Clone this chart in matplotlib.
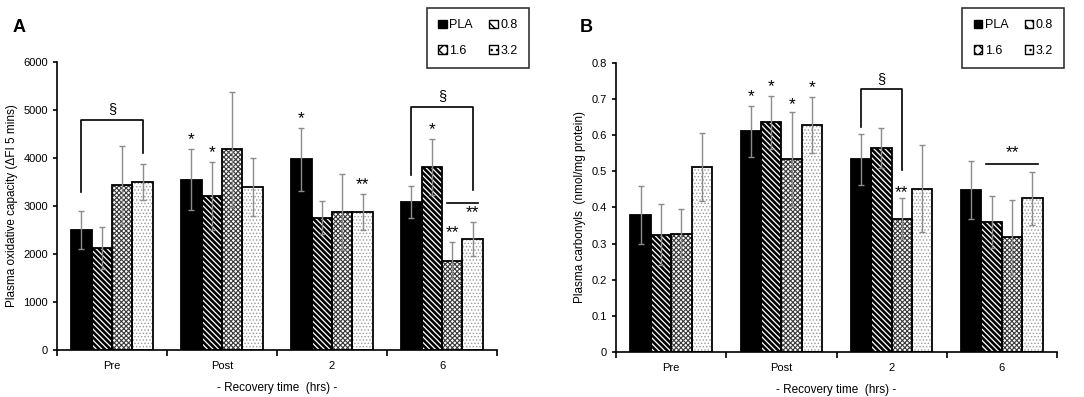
import numpy as np
import matplotlib
matplotlib.use('Agg')
import matplotlib.pyplot as plt
from matplotlib.patches import Patch

plt.rcParams['font.family'] = ['Liberation Sans', 'DejaVu Sans']

# ------------------------------------
# DADOS
# ------------------------------------
tempos = ['Pre', 'Post', '2', '6']
grupos = ['PLA', '0.8', '1.6', '3.2']

# Painel A - Plasma oxidative capacity
a_pla = [2500, 3550, 3970, 3080]
a_08 = [2130, 3210, 2760, 3810]
a_16 = [3440, 4180, 2870, 1860]
a_32 = [3500, 3400, 2870, 2310]
a_pla_err = [390, 640, 660, 340]
a_08_err = [440, 700, 340, 590]
a_16_err = [820, 1200, 790, 390]
a_32_err = [380, 610, 370, 360]

# Painel B - Plasma carbonyls
b_pla = [0.380, 0.611, 0.533, 0.449]
b_08 = [0.325, 0.636, 0.565, 0.360]
b_16 = [0.327, 0.533, 0.369, 0.317]
b_32 = [0.512, 0.629, 0.452, 0.425]
b_pla_err = [0.080, 0.070, 0.070, 0.080]
b_08_err = [0.085, 0.073, 0.056, 0.072]
b_16_err = [0.070, 0.130, 0.056, 0.104]
b_32_err = [0.095, 0.078, 0.120, 0.074]

# estilo de cada grupo: preenchimento, hachura, cor e espessura da hachura
cores = ['black', 'white', 'white', 'white']
hachuras = [None, '\\' * 6, 'x' * 7, '.' * 5]
cor_hachura = ['black', 'black', '#3a3a3a', '#9a9a9a']
esp_hachura = [1.0, 1.9, 0.8, 0.6]
largura = 0.185


def barra_hachurada(ax, pos, vals, i, w):
    with plt.rc_context({'hatch.linewidth': esp_hachura[i]}):
        ax.bar(pos, vals, w, color=cores[i], edgecolor=cor_hachura[i],
               linewidth=0, hatch=hachuras[i], zorder=2)
    ax.bar(pos, vals, w, fill=False, edgecolor='black', linewidth=1.3, zorder=2.5)


def desenhar_barras(ax, series, erros):
    x = np.arange(len(tempos))
    for i, (vals, errs) in enumerate(zip(series, erros)):
        pos = x + (i - 1.5) * largura
        barra_hachurada(ax, pos, vals, i, largura)
        ax.errorbar(pos, vals, yerr=errs, fmt='none', ecolor='#8c8c8c',
                    elinewidth=1.0, capsize=2.5, capthick=1.0, zorder=3)
    return x


def estilo_eixo(ax, ymax, passo, ylabel):
    ax.set_xlim(-0.5, 3.5)
    ax.set_ylim(0, ymax)
    ax.set_yticks(np.arange(0, ymax + passo / 2, passo))
    ax.spines['top'].set_visible(False)
    ax.spines['right'].set_visible(False)
    ax.spines['left'].set_linewidth(1.2)
    ax.spines['bottom'].set_linewidth(1.2)
    ax.set_xticks(np.arange(len(tempos)))
    ax.set_xticklabels(tempos)
    ax.tick_params(axis='x', length=0, labelsize=8, pad=8)
    ax.set_xticks(np.arange(-0.5, 4.0, 1.0), minor=True)
    ax.tick_params(axis='x', which='minor', length=4, width=1.2, direction='out')
    ax.tick_params(axis='y', length=3, width=1.2, labelsize=8)
    ax.set_ylabel(ylabel, fontsize=8.5)
    ax.set_xlabel('- Recovery time  (hrs) -', fontsize=8.5, labelpad=8)


def legenda(fig, bbox):
    handles = []
    for i in range(4):
        with plt.rc_context({'hatch.linewidth': 0.8}):
            handles.append(Patch(facecolor=cores[i], edgecolor='black',
                                 hatch=hachuras[i][:3] if hachuras[i] else None,
                                 linewidth=1.0, label=grupos[i]))
    # ordem: PLA, 0.8 na primeira linha; 1.6, 3.2 na segunda
    ordem = [handles[0], handles[2], handles[1], handles[3]]
    leg = fig.legend(handles=ordem, ncol=2, loc='upper left',
                     bbox_to_anchor=bbox, frameon=True, fancybox=False,
                     edgecolor='black', fontsize=9, handlelength=0.7,
                     handleheight=0.7, handletextpad=0.2, columnspacing=1.3,
                     labelspacing=1.1, borderpad=0.9)
    leg.get_frame().set_linewidth(1.2)


def colchete(ax, x1, x2, topo, y1, y2, texto, dy):
    ax.plot([x1, x1, x2, x2], [y1, topo, topo, y2], color='black', lw=1.2, zorder=4)
    ax.text((x1 + x2) / 2, topo + dy, texto, ha='center', va='bottom', fontsize=10.5)


fig = plt.figure(figsize=(10.84, 3.97), dpi=100)
off = lambda i: (i - 1.5) * largura

# ---------------- Painel A ----------------
axA = fig.add_axes([0.0526, 0.1184, 0.4059, 0.7254])
xA = desenhar_barras(axA, [a_pla, a_08, a_16, a_32],
                     [a_pla_err, a_08_err, a_16_err, a_32_err])
estilo_eixo(axA, 6000, 1000, 'Plasma oxidative capacity (ΔFI 5 mins)')

colchete(axA, xA[0] + off(0), xA[0] + off(3), 4790, 3290, 4100, '§', 80)
colchete(axA, xA[3] + off(0), xA[3] + off(3), 5060, 3650, 3330, '§', 80)
axA.plot([xA[3] + off(2) - 0.05, xA[3] + off(3) + 0.05], [3070, 3070], color='black', lw=1.2)

estrelas_A = [(1, 0, 4230, '*'), (1, 1, 3950, '*'), (2, 0, 4670, '*'),
              (2, 3, 3280, '**'), (3, 1, 4440, '*'), (3, 2, 2290, '**'),
              (3, 3, 2710, '**')]
for g, s, y, t in estrelas_A:
    axA.text(xA[g] + off(s), y, t, ha='center', va='bottom', fontsize=12.5)

fig.text(0.012, 0.93, 'A', fontsize=13, fontweight='bold', va='center')
legenda(fig, (0.388, 0.995))

# ---------------- Painel B ----------------
axB = fig.add_axes([0.5683, 0.1134, 0.4068, 0.7279])
xB = desenhar_barras(axB, [b_pla, b_08, b_16, b_32],
                     [b_pla_err, b_08_err, b_16_err, b_32_err])
estilo_eixo(axB, 0.8, 0.1, 'Plasma carbonyls  (nmol/mg protein)')
axB.yaxis.set_major_formatter(plt.FuncFormatter(lambda v, p: '0' if v == 0 else f'{v:.1f}'))

colchete(axB, xB[2] + off(0), xB[2] + off(2), 0.728, 0.623, 0.504, '§', 0.008)
axB.plot([xB[3] + off(1) - 0.05, xB[3] + off(3) + 0.05], [0.52, 0.52], color='black', lw=1.2)
axB.text((xB[3] + off(1) + xB[3] + off(3)) / 2, 0.53, '**', ha='center', va='bottom', fontsize=12.5)

estrelas_B = [(1, 0, 0.685, '*'), (1, 1, 0.715, '*'), (1, 2, 0.665, '*'),
              (1, 3, 0.71, '*'), (2, 2, 0.42, '**')]
for g, s, y, t in estrelas_B:
    axB.text(xB[g] + off(s), y, t, ha='center', va='bottom', fontsize=12.5)

fig.text(0.535, 0.93, 'B', fontsize=13, fontweight='bold', va='center')
legenda(fig, (0.882, 0.995))

plt.savefig('out.png', dpi=100)
